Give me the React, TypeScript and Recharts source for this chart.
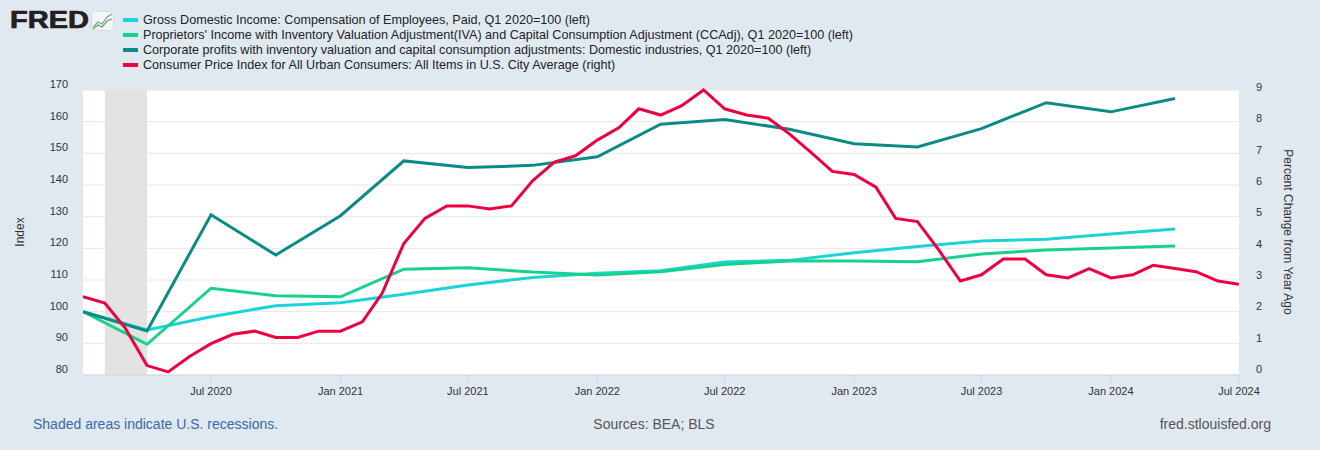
import * as React from "react"
import {
  LineChart, Line, XAxis, YAxis, CartesianGrid, ReferenceArea
} from "recharts"

// ─── Data ────────────────────────────────────────────────────────────────────
const quarters = [
  "2020-01-01", "2020-04-01", "2020-07-01", "2020-10-01",
  "2021-01-01", "2021-04-01", "2021-07-01", "2021-10-01",
  "2022-01-01", "2022-04-01", "2022-07-01", "2022-10-01",
  "2023-01-01", "2023-04-01", "2023-07-01", "2023-10-01",
  "2024-01-01", "2024-04-01",
]
const compensation = [100, 94.2, 98.4, 101.9, 102.8, 105.5, 108.4, 110.8, 112.1, 112.9, 115.7, 116.2, 118.6, 120.6, 122.3, 122.9, 124.5, 126.1]
const proprietors = [100, 89.7, 107.4, 105.0, 104.7, 113.4, 113.9, 112.5, 111.6, 112.6, 114.9, 116.0, 116.0, 115.8, 118.2, 119.5, 120.1, 120.7]
const profits = [100, 93.9, 130.6, 117.9, 130.3, 147.6, 145.5, 146.2, 148.9, 159.2, 160.7, 157.6, 153.0, 152.0, 157.8, 166.0, 163.1, 167.3]

// monthly, Jan 2020 .. Jul 2024
const cpiStart = "2020-01-01"
const cpi = [
  2.5, 2.3, 1.5, 0.3, 0.1, 0.6, 1.0, 1.3, 1.4, 1.2, 1.2, 1.4,
  1.4, 1.7, 2.6, 4.2, 5.0, 5.4, 5.4, 5.3, 5.4, 6.2, 6.8, 7.0,
  7.5, 7.9, 8.5, 8.3, 8.6, 9.1, 8.5, 8.3, 8.2, 7.7, 7.1, 6.5,
  6.4, 6.0, 5.0, 4.9, 4.0, 3.0, 3.2, 3.7, 3.7, 3.2, 3.1, 3.4,
  3.1, 3.2, 3.5, 3.4, 3.3, 3.0, 2.9,
]

const xTicks = ["2020-07-01", "2021-01-01", "2021-07-01", "2022-01-01", "2022-07-01", "2023-01-01", "2023-07-01", "2024-01-01", "2024-07-01"]
const xTickLabels = ["Jul 2020", "Jan 2021", "Jul 2021", "Jan 2022", "Jul 2022", "Jan 2023", "Jul 2023", "Jan 2024", "Jul 2024"]
const leftTicks = [80, 90, 100, 110, 120, 130, 140, 150, 160, 170]
const rightTicks = [0, 1, 2, 3, 4, 5, 6, 7, 8, 9]
const recession = ["2020-02-01", "2020-04-01"]
const xDomain = ["2020-01-01", "2024-07-01"]

const series = [
  { key: "comp", name: "Gross Domestic Income: Compensation of Employees, Paid, Q1 2020=100 (left)", color: "#1cd3d6", axis: "left" },
  { key: "prop", name: "Proprietors' Income with Inventory Valuation Adjustment(IVA) and Capital Consumption Adjustment (CCAdj), Q1 2020=100 (left)", color: "#16d28c", axis: "left" },
  { key: "prof", name: "Corporate profits with inventory valuation and capital consumption adjustments: Domestic industries, Q1 2020=100 (left)", color: "#0b8b85", axis: "left" },
  { key: "cpi", name: "Consumer Price Index for All Urban Consumers: All Items in U.S. City Average (right)", color: "#ef0040", axis: "right" },
]

// ─── Helpers ─────────────────────────────────────────────────────────────────
const ts = (s: string) => {
  const [y, m, d] = s.split("-").map(Number)
  return Date.UTC(y, m - 1, d)
}

const rows = cpi.map((v, i) => {
  const [y0, m0] = cpiStart.split("-").map(Number)
  const date = Date.UTC(y0, m0 - 1 + i, 1)
  const row: any = { date, cpi: v }
  const q = quarters.findIndex((s) => ts(s) === date)
  if (q >= 0) {
    row.comp = compensation[q]
    row.prop = proprietors[q]
    row.prof = profits[q]
  }
  return row
})

const FONT = "'Liberation Sans', Arial, sans-serif"
const labelFor = (t: number) => xTickLabels[xTicks.findIndex((s) => ts(s) === t)] ?? ""

function YTick({ x, y, payload, textAnchor }: any) {
  return (
    <text x={x} y={y - 2} textAnchor={textAnchor} fontSize={11} fill="#333" fontFamily={FONT}>
      {payload.value}
    </text>
  )
}

// ─── App ─────────────────────────────────────────────────────────────────────
export default function App() {
  return (
    <div style={{ position: "absolute", left: 0, top: 0, width: 1320, height: 450, background: "#e1e9f0", fontFamily: FONT, overflow: "hidden" }}>
      {/* logo */}
      <div style={{ position: "absolute", left: 10, top: 7, fontSize: 23, fontWeight: 900, color: "#231f20", transform: "scaleX(1.26)", transformOrigin: "left top", WebkitTextStroke: "0.7px #231f20", lineHeight: "26px" }}>FRED</div>
      <svg style={{ position: "absolute", left: 91, top: 11 }} width={23} height={20}>
        <rect x={0.5} y={0.5} width={22} height={19} rx={3} fill="#f4f6f6" stroke="#d7dcdc" />
        <polyline points="2,16 7,11 11,13 16,6 21,3" fill="none" stroke="#7a9cc6" strokeWidth={1.2} />
        <polyline points="2,18 7,14 11,16 16,10 21,8" fill="none" stroke="#6aa84f" strokeWidth={1.2} />
      </svg>

      {/* legend */}
      <div style={{ position: "absolute", left: 123, top: 12 }}>
        {series.map((s) => (
          <div key={s.key} style={{ display: "flex", alignItems: "center", height: 15, fontSize: 12.6, color: "#222", whiteSpace: "nowrap" }}>
            <span style={{ display: "inline-block", width: 15, height: 4, background: s.color, marginRight: 5 }} />
            {s.name}
          </div>
        ))}
      </div>

      {/* axis titles */}
      <div style={{ position: "absolute", left: 20, top: 232, fontSize: 12, color: "#333", transform: "translate(-50%, -50%) rotate(-90deg)", whiteSpace: "nowrap" }}>Index</div>
      <div style={{ position: "absolute", left: 1288, top: 232, fontSize: 12, color: "#333", transform: "translate(-50%, -50%) rotate(90deg)", whiteSpace: "nowrap" }}>Percent Change from Year Ago</div>

      <div style={{ position: "absolute", left: 0, top: 0 }}>
        <LineChart width={1320} height={450} data={rows} margin={{ top: 90, right: 41, left: 43, bottom: 45 }}>
          <CartesianGrid yAxisId="left" vertical={false} stroke="#e6e6e6" fill="#ffffff" />
          <XAxis
            dataKey="date"
            type="number"
            domain={[ts(xDomain[0]), ts(xDomain[1])]}
            ticks={xTicks.map(ts)}
            tickFormatter={labelFor}
            interval={0}
            height={30}
            tickSize={8}
            tickMargin={4}
            stroke="#ccd6eb"
            tick={{ fontSize: 11, fill: "#333", fontFamily: FONT }}
            allowDataOverflow
          />
          <YAxis
            yAxisId="left"
            orientation="left"
            domain={[80, 170]}
            ticks={leftTicks}
            width={40}
            axisLine={false}
            tickLine={false}
            tickSize={0}
            tickMargin={15}
            tick={<YTick />}
          />
          <YAxis
            yAxisId="right"
            orientation="right"
            domain={[0, 9]}
            ticks={rightTicks}
            width={40}
            axisLine={false}
            tickLine={false}
            tickSize={0}
            tickMargin={17}
            tick={<YTick />}
          />
          <ReferenceArea yAxisId="left" x1={ts(recession[0])} x2={ts(recession[1])} y1={80} y2={170} fill="#e3e3e3" fillOpacity={1} stroke="none" />
          {series.map((s) => (
            <Line
              key={s.key}
              yAxisId={s.axis}
              type="linear"
              dataKey={s.key}
              stroke={s.color}
              strokeWidth={3}
              dot={false}
              activeDot={false}
              connectNulls
              isAnimationActive={false}
            />
          ))}
        </LineChart>
      </div>

      {/* footer */}
      <div style={{ position: "absolute", left: 33, top: 416, fontSize: 14, color: "#3a68a6" }}>Shaded areas indicate U.S. recessions.</div>
      <div style={{ position: "absolute", left: 654, top: 416, fontSize: 14, color: "#555", transform: "translateX(-50%)" }}>Sources: BEA; BLS</div>
      <div style={{ position: "absolute", right: 49, top: 416, fontSize: 14, color: "#555" }}>fred.stlouisfed.org</div>
    </div>
  )
}
